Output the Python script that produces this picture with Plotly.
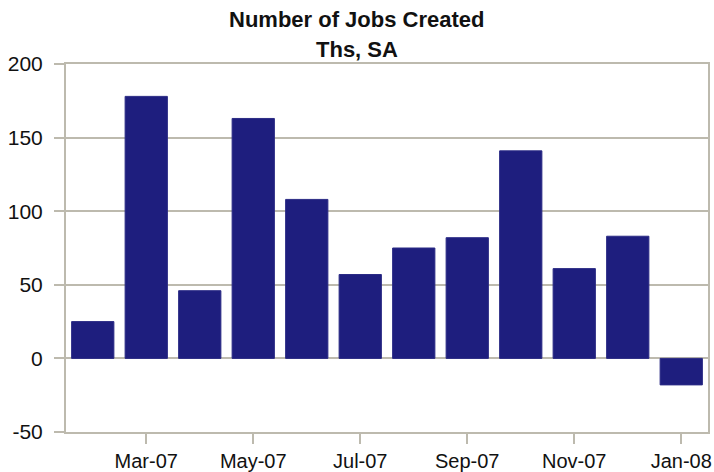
import plotly.graph_objects as go

months = ["Feb-07", "Mar-07", "Apr-07", "May-07", "Jun-07", "Jul-07",
          "Aug-07", "Sep-07", "Oct-07", "Nov-07", "Dec-07", "Jan-08"]
jobs = [25, 178, 46, 163, 108, 57, 75, 82, 141, 61, 83, -18]
tick_labels = ["Mar-07", "May-07", "Jul-07", "Sep-07", "Nov-07", "Jan-08"]
y_ticks = [-50, 0, 50, 100, 150, 200]
y_tick_text = ["-50", "0", "50", "100", "150", "200"]
title_lines = ["Number of Jobs Created", "Ths, SA"]

grid = "#BDBAAE"
font = "Liberation Sans, Arial, sans-serif"

fig = go.Figure(go.Bar(
    x=months, y=jobs,
    marker=dict(color="#1E1E7E", line=dict(color="#2B2B85", width=1)),
))

fig.update_layout(
    width=714, height=472,
    margin=dict(l=66, r=6, t=64, b=40, autoexpand=False),
    paper_bgcolor="white", plot_bgcolor="white",
    bargap=0.21,
    showlegend=False,
    font=dict(family=font, size=21, color="#111111"),
)

title_y = [19, 49]
for txt, yp in zip(title_lines, title_y):
    fig.add_annotation(
        text="<b>%s</b>" % txt, xref="paper", yref="paper",
        x=(357 - 66) / (714 - 66 - 6), y=1 + (64 - yp) / (472 - 64 - 40),
        xanchor="center", yanchor="middle", showarrow=False,
        font=dict(family=font, size=22, color="#111111"),
    )

fig.update_xaxes(
    type="category", range=[-0.5, 11.5], automargin=False,
    tickmode="array", tickvals=tick_labels, ticktext=tick_labels,
    ticks="outside", ticklen=10, tickcolor=grid, tickwidth=2,
    tickfont=dict(size=20),
    ticklabelstandoff=0,
    showline=True, linecolor=grid, linewidth=2, mirror=True,
    showgrid=False,
)
fig.update_yaxes(
    range=[-50, 200], automargin=False,
    tickmode="array", tickvals=y_ticks, ticktext=y_tick_text,
    ticks="outside", ticklen=10, tickcolor=grid, tickwidth=2,
    ticklabelstandoff=7,
    showline=True, linecolor=grid, linewidth=2, mirror=True,
    showgrid=True, gridcolor=grid, gridwidth=2,
    zeroline=False,
)

fig.write_html("out.html", config={"displayModeBar": False},
               post_script="document.body.style.margin='0';document.body.style.overflow='hidden';")
